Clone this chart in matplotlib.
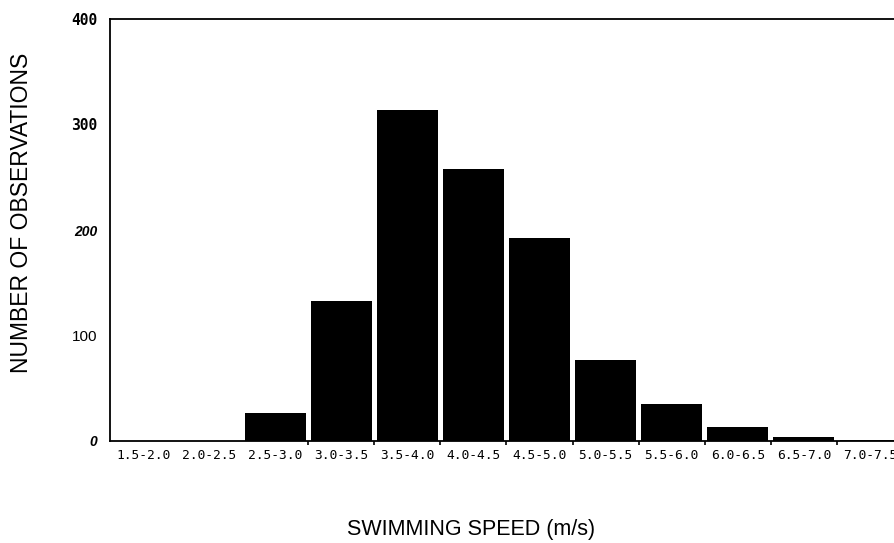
import numpy as np
import matplotlib.pyplot as plt


###===== DATA =====####
speedBins = ['1.5-2.0', '2.0-2.5', '2.5-3.0', '3.0-3.5', '3.5-4.0', '4.0-4.5',
             '4.5-5.0', '5.0-5.5', '5.5-6.0', '6.0-6.5', '6.5-7.0', '7.0-7.5']
observations = [0, 0, 27, 133, 314, 258, 192, 77, 35, 13, 4, 1]
yTicks = [0, 100, 200, 300, 400]


###===== FIGURE =====####
fig = plt.figure(figsize=(8.94, 5.43), dpi=100)
# axes runs slightly past the right edge, like the scanned page
ax = fig.add_axes([110 / 894, 102 / 543, 793 / 894, 422 / 543])

x = np.arange(len(speedBins))
ax.bar(x, observations, width=0.92, color='black', edgecolor='none')

ax.set_xlim(-0.5, len(speedBins) - 0.5)
ax.set_ylim(0, 400)

for side in ['left', 'bottom', 'top', 'right']:
    ax.spines[side].set_linewidth(1.3)
    ax.spines[side].set_color('black')

# Category labels at bin centres, small ticks on the bin boundaries
ax.set_xticks(x)
ax.set_xticklabels(speedBins, family='DejaVu Sans Mono', fontsize=9.3)
ax.tick_params(axis='x', which='major', length=0, pad=6)
ax.set_xticks(np.arange(2.5, len(speedBins), 1), minor=True)
ax.tick_params(axis='x', which='minor', length=3, width=1.2, direction='out')

# y tick labels (mixed styles, as in the scan)
ax.set_yticks(yTicks)
ax.set_yticklabels([str(v) for v in yTicks])
ax.tick_params(axis='y', length=0, pad=9)
yStyles = [
    dict(family='Liberation Sans', style='italic', weight='bold', size=10),
    dict(family='Liberation Sans', style='normal', weight='normal', size=11),
    dict(family='Liberation Sans', style='italic', weight='bold', size=10),
    dict(family='DejaVu Sans Mono', style='normal', weight='bold', size=10.5),
    dict(family='DejaVu Sans Mono', style='normal', weight='bold', size=10.5),
]
for lbl, st in zip(ax.get_yticklabels(), yStyles):
    lbl.set_family(st['family'])
    lbl.set_style(st['style'])
    lbl.set_weight(st['weight'])
    lbl.set_fontsize(st['size'])

# Axis titles
fig.text(22 / 894, 1 - 213 / 543, 'NUMBER OF OBSERVATIONS', rotation=90,
         ha='center', va='center', family='Liberation Sans', fontsize=16.5)
fig.text(471 / 894, 1 - 529 / 543, 'SWIMMING SPEED (m/s)',
         ha='center', va='center', family='Liberation Sans', fontsize=15.5)

fig.savefig('out.png', dpi=100)
